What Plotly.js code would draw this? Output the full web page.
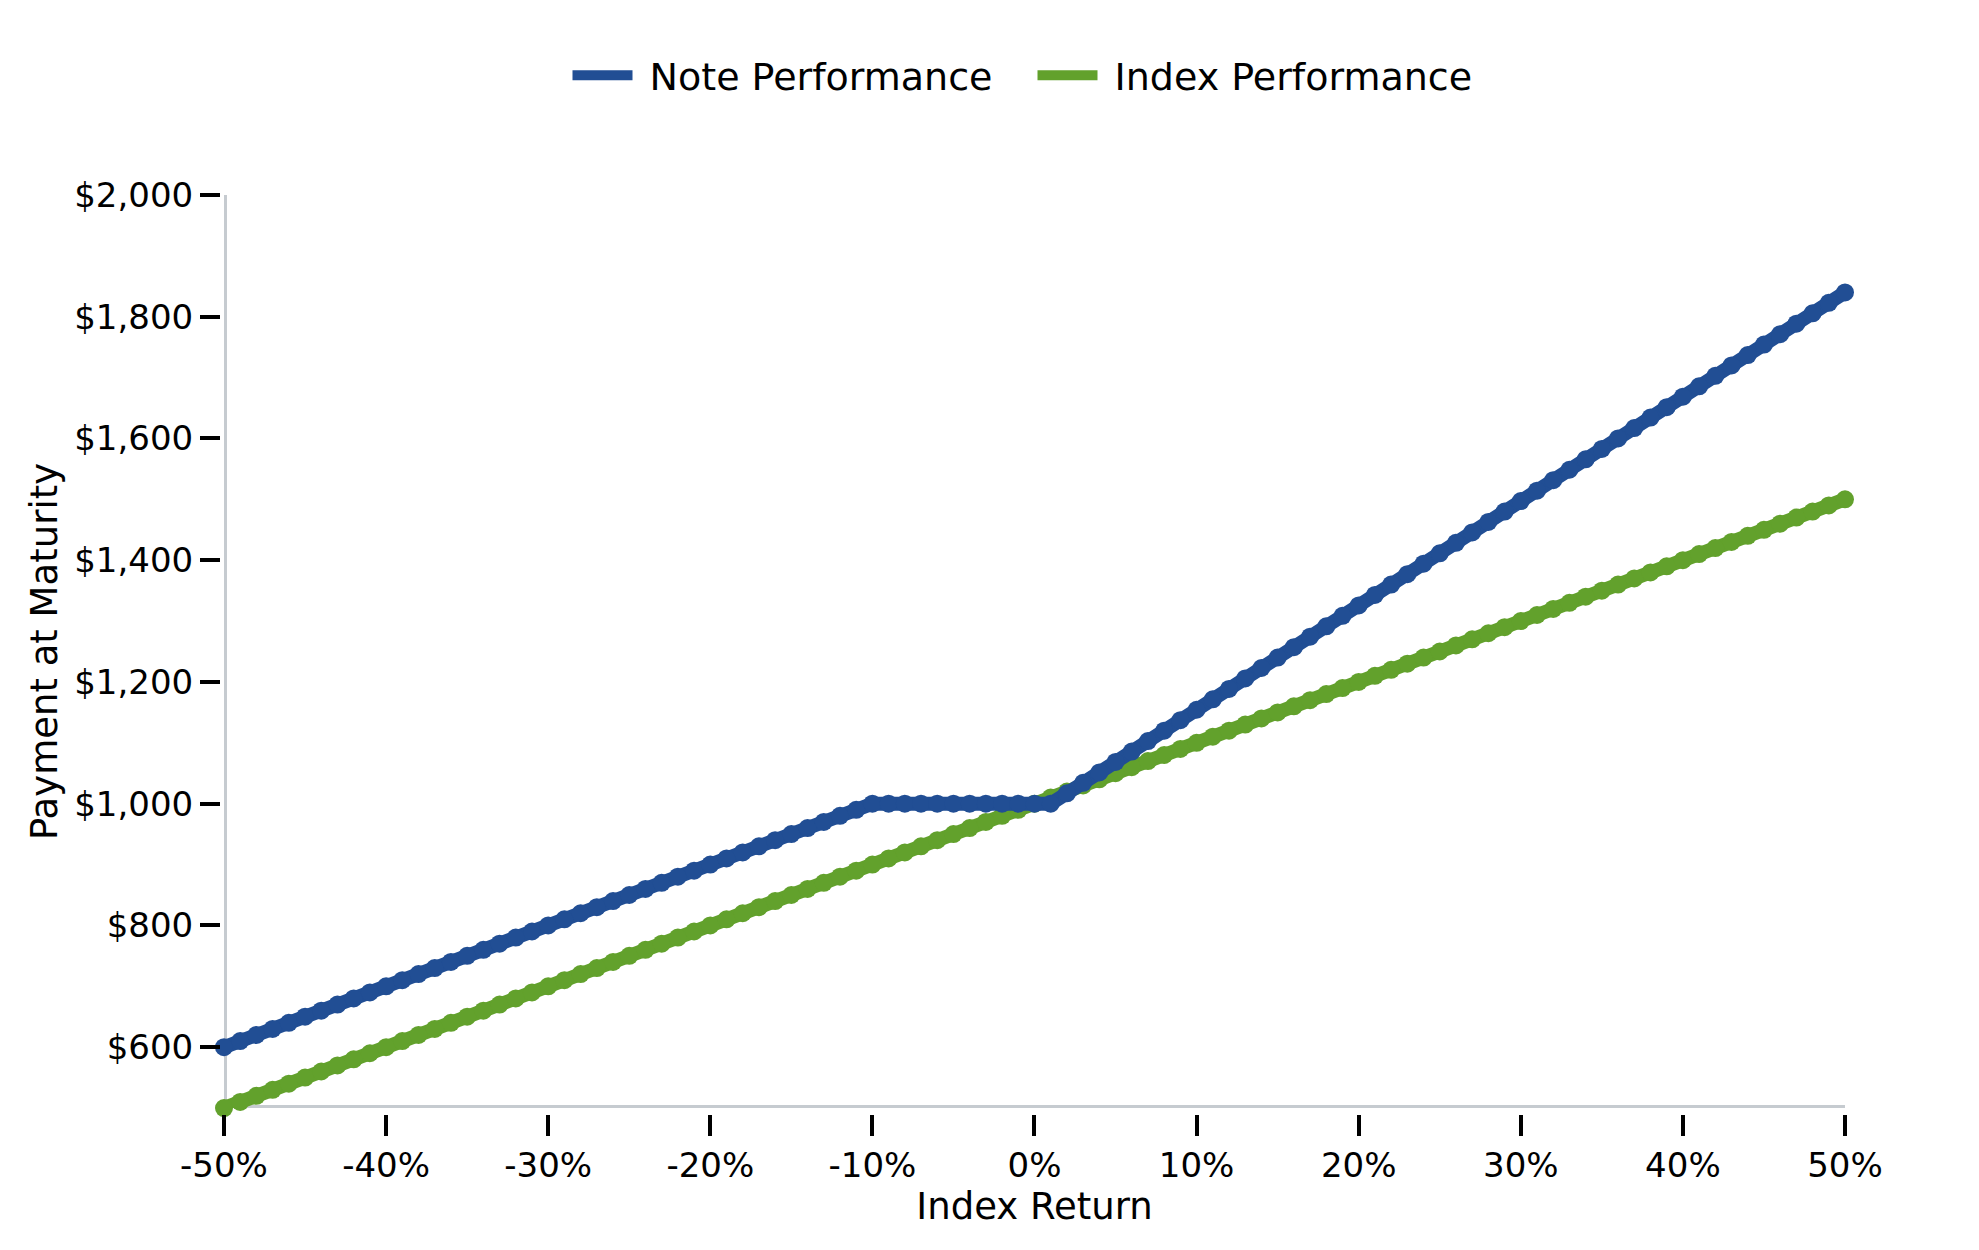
<!DOCTYPE html>
<html>
<head>
<meta charset="utf-8">
<script src="https://cdn.plot.ly/plotly-3.0.1.min.js"></script>
<style>
  html, body { margin: 0; padding: 0; background: #fff; }
  #chart { width: 1979px; height: 1250px; }
</style>
</head>
<body>
<div id="chart"></div>
<script>
// index return in percent, one point per 1%
const indexReturn = [
  -50, -49, -48, -47, -46, -45, -44, -43, -42, -41,
  -40, -39, -38, -37, -36, -35, -34, -33, -32, -31,
  -30, -29, -28, -27, -26, -25, -24, -23, -22, -21,
  -20, -19, -18, -17, -16, -15, -14, -13, -12, -11,
  -10, -9, -8, -7, -6, -5, -4, -3, -2, -1,
  0, 1, 2, 3, 4, 5, 6, 7, 8, 9,
  10, 11, 12, 13, 14, 15, 16, 17, 18, 19,
  20, 21, 22, 23, 24, 25, 26, 27, 28, 29,
  30, 31, 32, 33, 34, 35, 36, 37, 38, 39,
  40, 41, 42, 43, 44, 45, 46, 47, 48, 49,
  50
];

// payment at maturity of the note
const notePerformance = [
  600, 610, 620, 630, 640, 650, 660, 670, 680, 690,
  700, 710, 720, 730, 740, 750, 760, 770, 780, 790,
  800, 810, 820, 830, 840, 850, 860, 870, 880, 890,
  900, 910, 920, 930, 940, 950, 960, 970, 980, 990,
  1000, 1000, 1000, 1000, 1000, 1000, 1000, 1000, 1000, 1000,
  1000, 1000, 1017.1, 1034.3, 1051.4, 1068.6, 1085.7, 1102.9, 1120, 1137.1,
  1154.3, 1171.4, 1188.6, 1205.7, 1222.9, 1240, 1257.1, 1274.3, 1291.4, 1308.6,
  1325.7, 1342.9, 1360, 1377.1, 1394.3, 1411.4, 1428.6, 1445.7, 1462.9, 1480,
  1497.1, 1514.3, 1531.4, 1548.6, 1565.7, 1582.9, 1600, 1617.1, 1634.3, 1651.4,
  1668.6, 1685.7, 1702.9, 1720, 1737.1, 1754.3, 1771.4, 1788.6, 1805.7, 1822.9,
  1840
];

// direct investment in the index
const indexPerformance = [
  500, 510, 520, 530, 540, 550, 560, 570, 580, 590,
  600, 610, 620, 630, 640, 650, 660, 670, 680, 690,
  700, 710, 720, 730, 740, 750, 760, 770, 780, 790,
  800, 810, 820, 830, 840, 850, 860, 870, 880, 890,
  900, 910, 920, 930, 940, 950, 960, 970, 980, 990,
  1000, 1010, 1020, 1030, 1040, 1050, 1060, 1070, 1080, 1090,
  1100, 1110, 1120, 1130, 1140, 1150, 1160, 1170, 1180, 1190,
  1200, 1210, 1220, 1230, 1240, 1250, 1260, 1270, 1280, 1290,
  1300, 1310, 1320, 1330, 1340, 1350, 1360, 1370, 1380, 1390,
  1400, 1410, 1420, 1430, 1440, 1450, 1460, 1470, 1480, 1490,
  1500
];

const xTicks = [-50, -40, -30, -20, -10, 0, 10, 20, 30, 40, 50];
const xTickLabels = ["-50%", "-40%", "-30%", "-20%", "-10%", "0%", "10%", "20%", "30%", "40%", "50%"];
const yTicks = [600, 800, 1000, 1200, 1400, 1600, 1800, 2000];
const yTickLabels = ["$600", "$800", "$1,000", "$1,200", "$1,400", "$1,600", "$1,800", "$2,000"];

const BLUE = "#214e94";
const GREEN = "#62a12c";
const AXIS_GREY = "#c6cbd0";
const FONT = "DejaVu Sans, Verdana, sans-serif";

const series = (name, values, color) => ({
  x: indexReturn,
  y: values,
  name: name,
  type: "scatter",
  mode: "lines+markers",
  line: { color: color, width: 14 },
  marker: { color: color, size: 18 },
  cliponaxis: false,
  showlegend: false,
  hoverinfo: "x+y"
});

// legend-only entries, plain line without the marker
// (leading nbsp widens the gap between symbol and text)
const legendItem = (name, color) => ({
  x: [null],
  y: [null],
  name: "\u00a0" + name,
  type: "scatter",
  mode: "lines",
  line: { color: color, width: 14 },
  hoverinfo: "skip"
});

// index drawn first so the note line sits on top
const data = [
  series("Index Performance", indexPerformance, GREEN),
  series("Note Performance", notePerformance, BLUE),
  legendItem("Note Performance", BLUE),
  legendItem("Index Performance", GREEN)
];

const layout = {
  width: 1979,
  height: 1250,
  margin: { l: 220, r: 134, t: 195, b: 136 },
  paper_bgcolor: "#ffffff",
  plot_bgcolor: "#ffffff",
  font: { family: FONT, size: 34, color: "#000000" },
  showlegend: true,
  legend: {
    orientation: "h",
    x: 0.5,
    xanchor: "center",
    y: 1.13,
    yanchor: "middle",
    font: { family: FONT, size: 38, color: "#000000" },
    itemwidth: 60,
    entrywidth: 390,
    traceorder: "normal"
  },
  xaxis: {
    domain: [0.00246, 1],
    anchor: "free",
    position: 0,
    range: [-50, 50],
    tickmode: "array",
    tickvals: xTicks,
    ticktext: xTickLabels,
    ticks: "outside",
    ticklen: 21,
    tickwidth: 4,
    tickcolor: "#000000",
    showline: false,
    showgrid: false,
    zeroline: false,
    tickfont: { family: FONT, size: 34 },
    title: {
      text: "Index Return",
      font: { family: FONT, size: 37 },
      standoff: 2
    }
  },
  yaxis: {
    domain: [0.0065, 1],
    anchor: "free",
    position: 0,
    range: [500, 2000],
    tickmode: "array",
    tickvals: yTicks,
    ticktext: yTickLabels,
    ticks: "outside",
    ticklen: 20,
    tickwidth: 4,
    tickcolor: "#000000",
    showline: false,
    showgrid: false,
    zeroline: false,
    tickfont: { family: FONT, size: 34 },
    title: {
      text: "Payment at Maturity",
      font: { family: FONT, size: 37 },
      standoff: 4
    }
  },
  shapes: [
    {
      type: "line", layer: "below",
      xref: "x", yref: "y",
      x0: -50, x1: 50, y0: 500, y1: 500,
      line: { color: AXIS_GREY, width: 6 }
    },
    {
      type: "line", layer: "below",
      xref: "x", yref: "y",
      x0: -50, x1: -50, y0: 500, y1: 2000,
      line: { color: AXIS_GREY, width: 6 }
    }
  ]
};

Plotly.newPlot("chart", data, layout, { displayModeBar: false, responsive: false });
</script>
</body>
</html>
